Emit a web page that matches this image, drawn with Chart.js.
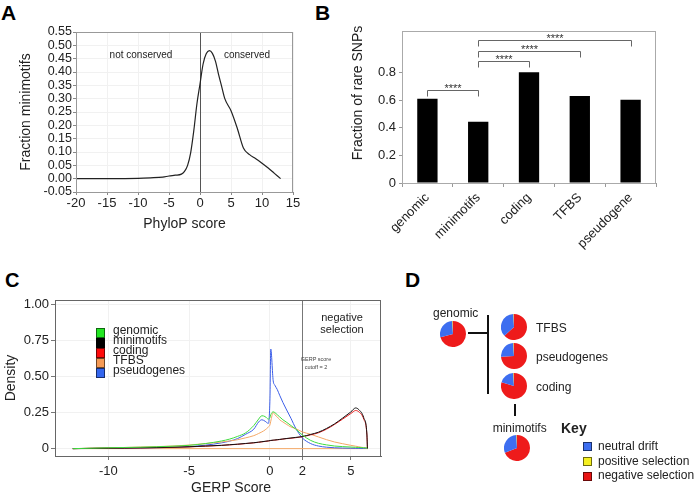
<!DOCTYPE html>
<html lang="en">
<head>
<meta charset="UTF-8">
<title>Minimotif conservation and selection</title>
<script src="https://cdn.jsdelivr.net/npm/chart.js"></script>
<style>
  body { margin: 0; width: 697px; height: 498px; background: #fff; position: relative; overflow: hidden;
         font-family: "Liberation Sans", Arial, sans-serif; color: #222; }
  canvas { position: absolute; }
  .t { position: absolute; white-space: nowrap; }
  .letter { position: absolute; font-weight: bold; font-size: 21px; line-height: 21px; color: #000; }
  .sq { position: absolute; box-sizing: border-box; border: 1px solid rgba(0,0,0,0.55); }
</style>
</head>
<body>

<div class="letter" style="left:1px;top:2px">A</div>
<div class="letter" style="left:315px;top:2px">B</div>
<div class="letter" style="left:5px;top:270px;font-size:20px;line-height:20px">C</div>
<div class="letter" style="left:405px;top:269px">D</div>

<canvas id="chartA" width="310" height="245" style="left:0;top:0"></canvas>
<canvas id="chartB" width="367" height="250" style="left:330px;top:0"></canvas>
<canvas id="chartC" width="400" height="243" style="left:0;top:255px"></canvas>

<!-- panel A notes -->
<div class="t" style="left:91px;top:50px;width:100px;text-align:center;font-size:10px;line-height:10px">not conserved</div>
<div class="t" style="left:197px;top:50px;width:100px;text-align:center;font-size:10px;line-height:10px">conserved</div>

<!-- panel B axis title -->
<div class="t" style="left:257px;top:85px;width:200px;height:16px;line-height:16px;font-size:14px;text-align:center;transform:rotate(-90deg)">Fraction of rare SNPs</div>

<!-- panel C notes -->
<div class="t" style="left:131px;top:479px;width:200px;line-height:16px;font-size:14px;text-align:center">GERP Score</div>
<div class="t" style="left:302px;top:311px;width:80px;text-align:center;font-size:11px;line-height:12px">negative<br>selection</div>
<div class="t" style="left:296px;top:356px;width:40px;text-align:center;font-size:5.5px;line-height:7.5px;color:#444">GERP score<br>cutoff = 2</div>
<div id="legendC"></div>

<!-- panel D -->
<div id="pies"></div>
<div style="position:absolute;left:468px;top:332px;width:21px;height:2px;background:#111"></div>
<div style="position:absolute;left:487px;top:315px;width:2px;height:79px;background:#111"></div>
<div style="position:absolute;left:514px;top:404px;width:2px;height:12px;background:#111"></div>
<div class="t" style="left:561px;top:421px;font-size:14px;line-height:14px;font-weight:bold">Key</div>
<div id="keyD"></div>

<script>
// ---------- data ----------
// A: PhyloP score density of minimotifs
const phyloScore = [-20, -15, -10, -8, -6, -5, -4, -3, -2.5, -2, -1.5, -1, -0.5, 0, 0.5, 1, 1.5, 2, 2.5, 3, 3.5, 4, 5, 6, 7, 8, 9, 10, 11, 12, 13];
const phyloFraction = [0, 0, 0.001, 0.003, 0.006, 0.01, 0.013, 0.017, 0.027, 0.05, 0.098, 0.18, 0.28, 0.355, 0.43, 0.468, 0.48, 0.47, 0.44, 0.39, 0.345, 0.3, 0.255, 0.19, 0.115, 0.09, 0.075, 0.058, 0.04, 0.02, 0];

// B: fraction of rare SNPs
const snpCategories = ['genomic', 'minimotifs', 'coding', 'TFBS', 'pseudogene'];
const rareFraction = [0.61, 0.443, 0.802, 0.629, 0.603];
const bracketFrom = [0, 1, 1, 1];
const bracketTo = [1, 2, 3, 4];
const bracketLevel = [0.674, 0.884, 0.957, 1.036];
const bracketLabel = ['****', '****', '****', '****'];

// C: GERP score densities
const gerpScore = [-12.2, -11, -10, -9, -8, -7, -6, -5, -4, -3, -2.5, -2, -1.5, -1, -0.7, -0.5, -0.3, -0.1, 0, 0.05, 0.2, 0.3, 0.45, 0.6, 0.8, 1, 1.3, 1.6, 2, 2.5, 3, 3.5, 4, 4.5, 5, 5.3, 5.5, 5.8, 6.0, 6.03];
const genomicDensity = [0, 0.003, 0.006, 0.008, 0.01, 0.013, 0.017, 0.023, 0.035, 0.053, 0.066, 0.085, 0.11, 0.16, 0.205, 0.228, 0.222, 0.205, 0.215, 0.235, 0.255, 0.25, 0.235, 0.22, 0.2, 0.185, 0.16, 0.135, 0.095, 0.058, 0.037, 0.026, 0.018, 0.014, 0.011, 0.009, 0.008, 0.006, 0.005, 0];
const minimotifDensity = [0, 0.002, 0.003, 0.004, 0.006, 0.008, 0.01, 0.013, 0.018, 0.023, 0.027, 0.031, 0.036, 0.041, 0.045, 0.048, 0.051, 0.054, 0.056, 0.057, 0.059, 0.06, 0.062, 0.064, 0.067, 0.07, 0.074, 0.078, 0.084, 0.098, 0.114, 0.14, 0.172, 0.212, 0.254, 0.282, 0.27, 0.215, 0.095, 0];
const codingDensity = [0, 0.002, 0.003, 0.004, 0.005, 0.007, 0.009, 0.012, 0.017, 0.022, 0.026, 0.03, 0.035, 0.04, 0.044, 0.047, 0.05, 0.053, 0.055, 0.056, 0.058, 0.059, 0.061, 0.063, 0.066, 0.069, 0.072, 0.076, 0.082, 0.095, 0.11, 0.135, 0.168, 0.205, 0.243, 0.264, 0.255, 0.205, 0.09, 0];
const tfbsDensity = [0, 0.003, 0.005, 0.008, 0.011, 0.014, 0.018, 0.025, 0.035, 0.046, 0.053, 0.062, 0.075, 0.09, 0.105, 0.116, 0.13, 0.15, 0.165, 0.19, 0.25, 0.235, 0.22, 0.2, 0.185, 0.17, 0.15, 0.138, 0.116, 0.1, 0.081, 0.062, 0.046, 0.034, 0.023, 0.017, 0.013, 0.007, 0.004, 0];
const pseudogeneDensity = [0, 0.001, 0.002, 0.003, 0.004, 0.006, 0.009, 0.014, 0.024, 0.04, 0.052, 0.07, 0.1, 0.135, 0.185, 0.2, 0.19, 0.175, 0.35, 0.69, 0.47, 0.44, 0.41, 0.37, 0.32, 0.275, 0.21, 0.14, 0.075, 0.036, 0.018, 0.01, 0.006, 0.004, 0.003, 0.002, 0.002, 0.001, 0.001, 0];
const tfbsFloorScore = [-12.2, 6.03];
const tfbsFloor = [0, 0];
const gerpTicks = [-10, -5, 0, 2, 5];
const densityTicks = [0, 0.25, 0.5, 0.75, 1];
const gerpCutoff = 2;

// D: selection class per region (percent)
const pieNames = ['genomic', 'TFBS', 'pseudogenes', 'coding', 'minimotifs'];
const negativeSel = [71, 63.2, 74, 79.5, 69.2];
const neutralDrift = [28, 36, 25, 19.5, 30];
const positiveSel = [1, 0.8, 1, 1, 0.8];
const keyLabels = ['neutral drift', 'positive selection', 'negative selection'];

// ---------- styles ----------
const seriesNames = ['genomic', 'minimotifs', 'coding', 'TFBS', 'pseudogenes'];
const seriesColors = ['#3fdc3f', '#111111', '#e61e1e', '#f4a866', '#3c5ee8'];
const legendColors = ['#22e622', '#000000', '#ff0a0a', '#f59a55', '#3366ee'];
const pieColors = ['#ee1b1b', '#3d6ef0', '#d8b43c'];
const keyColors = ['#3d6ef0', '#f5f020', '#e81414'];

Chart.defaults.font.family = '"Liberation Sans", Arial, sans-serif';
Chart.defaults.color = '#222';
Chart.defaults.animation = false;
Chart.defaults.plugins.legend.display = false;
Chart.defaults.plugins.tooltip.enabled = false;

// box round the plot area plus an optional vertical reference line
const framePlugin = {
  id: 'frame',
  beforeDatasetsDraw(chart, args, opts) {
    if (opts.refX === undefined) return;
    const {ctx, chartArea: a} = chart;
    const px = Math.round(chart.scales.x.getPixelForValue(opts.refX)) + 0.5;
    ctx.save();
    ctx.strokeStyle = opts.refColor;
    ctx.lineWidth = 1;
    ctx.beginPath();
    ctx.moveTo(px, a.top);
    ctx.lineTo(px, a.bottom);
    ctx.stroke();
    ctx.restore();
  },
  afterDraw(chart, args, opts) {
    const {ctx, chartArea: a} = chart;
    ctx.save();
    ctx.strokeStyle = opts.color;
    ctx.lineWidth = 1;
    ctx.strokeRect(Math.round(a.left) + 0.5, Math.round(a.top) + 0.5, Math.round(a.width) - 1, Math.round(a.height));
    ctx.restore();
  }
};

// significance brackets for panel B
const bracketPlugin = {
  id: 'brackets',
  afterDatasetsDraw(chart) {
    const {ctx, scales: {x, y}} = chart;
    ctx.save();
    ctx.strokeStyle = '#666';
    ctx.lineWidth = 1;
    ctx.fillStyle = '#333';
    ctx.font = '11px "Liberation Sans", Arial, sans-serif';
    ctx.textAlign = 'center';
    ctx.textBaseline = 'alphabetic';
    bracketFrom.forEach((from, i) => {
      const x1 = Math.round(x.getPixelForValue(from)) + 0.5;
      const x2 = Math.round(x.getPixelForValue(bracketTo[i])) + 0.5;
      const yy = Math.round(y.getPixelForValue(bracketLevel[i])) + 0.5;
      ctx.beginPath();
      ctx.moveTo(x1, yy + 6);
      ctx.lineTo(x1, yy);
      ctx.lineTo(x2, yy);
      ctx.lineTo(x2, yy + 6);
      ctx.stroke();
      ctx.fillText(bracketLabel[i], (x1 + x2) / 2, yy + 1);
    });
    ctx.restore();
  }
};

// ---------- A ----------
new Chart(document.getElementById('chartA'), {
  type: 'line',
  data: {
    datasets: [{
      data: phyloScore.map((s, i) => ({x: s, y: phyloFraction[i]})),
      borderColor: '#222',
      borderWidth: 1.2,
      pointRadius: 0,
      cubicInterpolationMode: 'monotone',
      fill: false
    }]
  },
  options: {
    responsive: false,
    layout: {padding: {top: 32, right: 17, left: 0, bottom: 0}},
    plugins: {frame: {color: '#999', refX: 0, refColor: '#555'}},
    scales: {
      x: {
        type: 'linear', min: -20, max: 15,
        ticks: {stepSize: 5, font: {size: 13}, padding: 1},
        grid: {color: '#f1f1f1', tickColor: '#888', tickLength: 3},
        border: {color: '#888'},
        title: {display: true, text: 'PhyloP score', font: {size: 14}, padding: {top: 0, bottom: 12}},
        afterFit: s => { s.height = 53; }
      },
      y: {
        min: -0.05, max: 0.55,
        ticks: {stepSize: 0.05, font: {size: 12.5}, padding: 1, autoSkip: false, callback: v => v.toFixed(2)},
        grid: {color: '#f1f1f1', tickColor: '#888', tickLength: 3},
        border: {color: '#888'},
        title: {display: true, text: 'Fraction minimotifs', font: {size: 14}, padding: {top: 18, bottom: 0}},
        afterFit: s => { s.width = 76; }
      }
    }
  },
  plugins: [framePlugin]
});

// ---------- B ----------
new Chart(document.getElementById('chartB'), {
  type: 'bar',
  data: {
    labels: snpCategories,
    datasets: [{
      data: rareFraction,
      backgroundColor: '#000',
      barPercentage: 0.4,
      categoryPercentage: 1
    }]
  },
  options: {
    responsive: false,
    layout: {padding: {top: 31, right: 41, left: 0, bottom: 0}},
    plugins: {frame: {color: '#aaa'}},
    scales: {
      x: {
        ticks: {font: {size: 13}, minRotation: 45, maxRotation: 45, autoSkip: false, padding: 3},
        grid: {drawOnChartArea: false, tickColor: '#999', tickLength: 4, offset: true},
        border: {color: '#999'},
        afterFit: s => { s.height = 67; }
      },
      y: {
        min: 0, max: 1.1,
        ticks: {stepSize: 0.2, font: {size: 13}, padding: 3, callback: v => String(Math.round(v * 10) / 10)},
        afterBuildTicks: s => { s.ticks = s.ticks.filter(t => Math.abs(t.value * 5 - Math.round(t.value * 5)) < 1e-6); },
        grid: {drawOnChartArea: false, tickColor: '#999', tickLength: 3},
        border: {color: '#999'},
        afterFit: s => { s.width = 72; }
      }
    }
  },
  plugins: [framePlugin, bracketPlugin]
});

// ---------- C ----------
const densities = [genomicDensity, minimotifDensity, codingDensity, tfbsDensity, pseudogeneDensity];
const gerpSets = seriesNames.map((name, k) => ({
  label: name,
  data: gerpScore.map((s, i) => ({x: s, y: densities[k][i]})),
  borderColor: seriesColors[k],
  borderWidth: 1,
  pointRadius: 0,
  cubicInterpolationMode: 'monotone',
  fill: false
}));
gerpSets.push({
  label: 'TFBS floor',
  data: tfbsFloorScore.map((s, i) => ({x: s, y: tfbsFloor[i]})),
  borderColor: seriesColors[3],
  borderWidth: 1,
  pointRadius: 0,
  fill: false
});

new Chart(document.getElementById('chartC'), {
  type: 'line',
  data: {datasets: gerpSets},
  options: {
    responsive: false,
    layout: {padding: {top: 45, right: 19, left: 0, bottom: 0}},
    plugins: {frame: {color: '#666', refX: gerpCutoff, refColor: '#777'}},
    scales: {
      x: {
        type: 'linear', min: -13.3, max: 6.87,
        afterBuildTicks: s => { s.ticks = gerpTicks.map(v => ({value: v})); },
        ticks: {font: {size: 13}, padding: 4},
        grid: {color: '#f1f1f1', tickColor: '#777', tickLength: 4},
        border: {color: '#666'},
        afterFit: s => { s.height = 42; }
      },
      y: {
        min: -0.051, max: 1.03,
        afterBuildTicks: s => { s.ticks = densityTicks.map(v => ({value: v})); },
        ticks: {font: {size: 13}, padding: 2, callback: v => v === 0 ? '0' : v.toFixed(2)},
        grid: {color: '#f1f1f1', tickColor: '#777', tickLength: 4},
        border: {color: '#666'},
        title: {display: true, text: 'Density', font: {size: 14}, padding: {top: 2.6, bottom: 0}},
        afterFit: s => { s.width = 55; }
      }
    }
  },
  plugins: [framePlugin]
});

// legend of panel C
const legendC = document.getElementById('legendC');
seriesNames.forEach((name, k) => {
  const sq = document.createElement('div');
  sq.className = 'sq';
  sq.style.cssText = `left:96px;top:${328 + 10 * k}px;width:9px;height:10px;background:${legendColors[k]}`;
  legendC.appendChild(sq);
  const tx = document.createElement('div');
  tx.className = 't';
  tx.style.cssText = `left:113px;top:${325 + 10 * k}px;font-size:12px;line-height:10px`;
  tx.textContent = name;
  legendC.appendChild(tx);
});

// ---------- D ----------
const pieCenters = [[452.5, 334], [514.3, 326.7], [514.3, 356.3], [514.3, 386.3], [516.8, 447.8]];
const piesDiv = document.getElementById('pies');
pieNames.forEach((name, k) => {
  const c = document.createElement('canvas');
  c.width = 26; c.height = 26;
  c.style.left = (pieCenters[k][0] - 13) + 'px';
  c.style.top = (pieCenters[k][1] - 13) + 'px';
  piesDiv.appendChild(c);
  new Chart(c, {
    type: 'pie',
    data: {
      labels: ['negative selection', 'neutral drift', 'positive selection'],
      datasets: [{data: [negativeSel[k], neutralDrift[k], positiveSel[k]], backgroundColor: pieColors, borderWidth: 0}]
    },
    options: {responsive: false, layout: {padding: 0}}
  });
});
const pieLabelPos = [[433, 306.5], [536, 321.5], [536, 351.1], [536, 381.1], [492.7, 421.5]];
pieNames.forEach((name, k) => {
  const tx = document.createElement('div');
  tx.className = 't';
  tx.style.cssText = `left:${pieLabelPos[k][0]}px;top:${pieLabelPos[k][1]}px;font-size:12px;line-height:12px`;
  tx.textContent = name;
  piesDiv.appendChild(tx);
});

const keyD = document.getElementById('keyD');
keyLabels.forEach((label, k) => {
  const sq = document.createElement('div');
  sq.className = 'sq';
  sq.style.cssText = `left:583px;top:${442.3 + 14.7 * k}px;width:9px;height:9px;background:${keyColors[k]}`;
  keyD.appendChild(sq);
  const tx = document.createElement('div');
  tx.className = 't';
  tx.style.cssText = `left:598px;top:${439.8 + 14.7 * k}px;font-size:12px;line-height:12px`;
  tx.textContent = label;
  keyD.appendChild(tx);
});
</script>
</body>
</html>
